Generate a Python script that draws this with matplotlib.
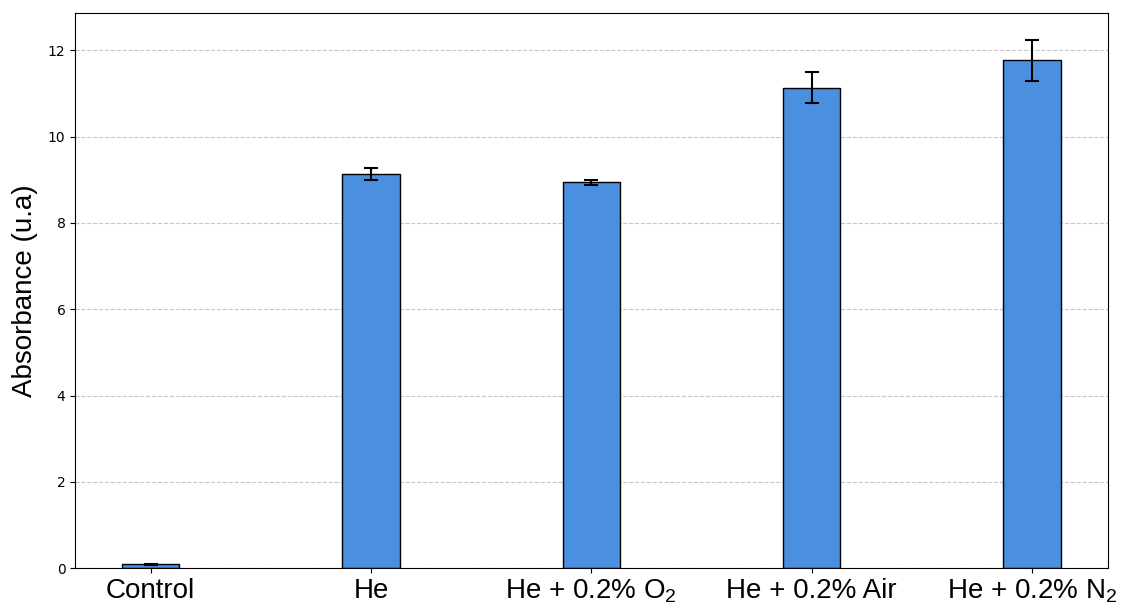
import numpy as np
import matplotlib.pyplot as plt

plt.rcParams['mathtext.fontset'] = 'custom'
plt.rcParams['mathtext.rm'] = 'Liberation Sans'
plt.rcParams['mathtext.it'] = 'Liberation Sans:italic'

# data
categories = ['Control', 'He', 'He + 0.2% O$_2$', 'He + 0.2% Air', 'He + 0.2% N$_2$']
absorbance = [0.09, 9.13, 8.94, 11.14, 11.77]
errors = [0.01, 0.14, 0.05, 0.35, 0.48]

x = np.arange(len(categories))

fig, ax = plt.subplots(figsize=(11.21, 6.03), dpi=100)
ax.bar(x, absorbance, width=0.26, yerr=errors, capsize=5,
       color='#4A8FE0', edgecolor='black', linewidth=1,
       error_kw={'elinewidth': 1.5, 'capthick': 1.5})

ax.set_xticks(x)
ax.set_xticklabels(categories, fontsize=20, family='Liberation Sans')
ax.set_ylabel('Absorbance (u.a)', fontsize=20, family='Liberation Sans', labelpad=7)
ax.grid(axis='y', linestyle='--', alpha=0.7)
ax.set_axisbelow(True)

plt.subplots_adjust(left=0.067, right=0.988, top=0.978, bottom=0.058)
plt.savefig('out.png')
